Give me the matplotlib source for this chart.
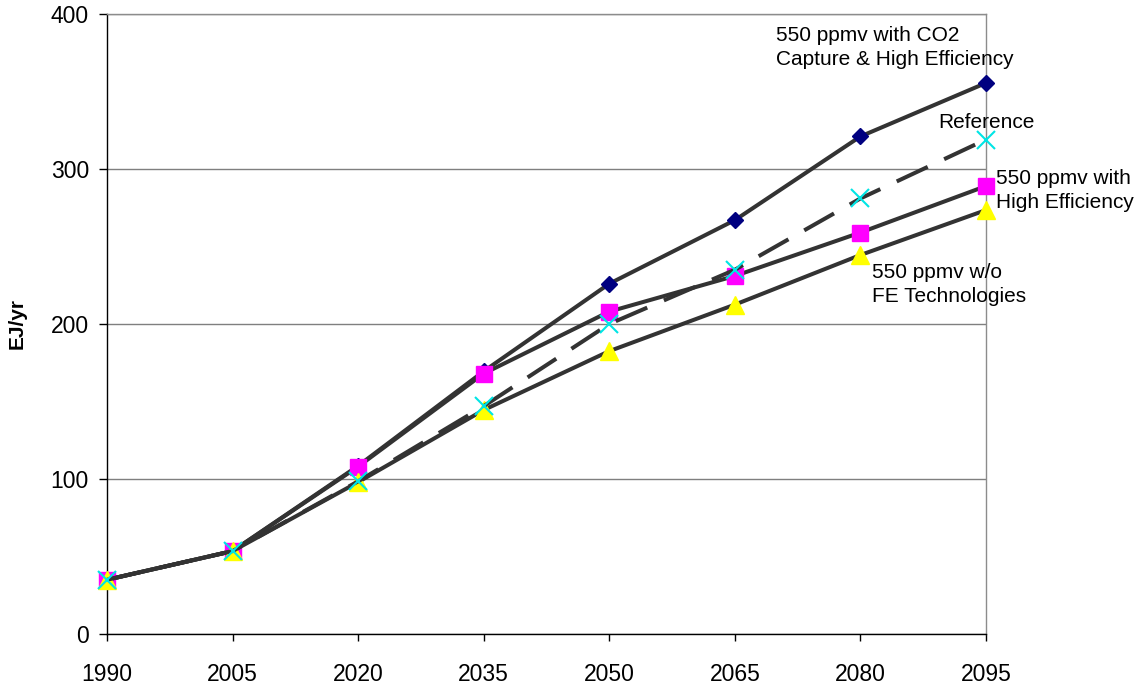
import matplotlib
matplotlib.use("Agg")
import matplotlib.pyplot as plt

plt.rcParams['font.family'] = ['Liberation Sans', 'DejaVu Sans']

years = [1990, 2005, 2020, 2035, 2050, 2065, 2080, 2095]
co2_capture_he = [35, 53.5, 108.5, 169.5, 226, 267, 321, 355.5]
high_eff = [35, 53.5, 108, 168, 208, 231, 259, 289]
reference = [35, 53.5, 98.5, 147, 200, 235, 281, 319]
wo_fe = [35, 53.5, 98, 144.5, 182.5, 212.5, 244.5, 273.5]

yticks = [0, 100, 200, 300, 400]

W, H = 1143, 690
fig = plt.figure(figsize=(W / 100, H / 100), dpi=100)
ax = fig.add_axes([107 / W, 1 - 634 / H, (986 - 107) / W, (634 - 14) / H])

line_c = '#333333'
lw = 2.9

ax.plot(years, co2_capture_he, color=line_c, lw=lw, marker='D', ms=8.6,
        mfc='#000080', mec='#000080', clip_on=False, zorder=3)
ax.plot(years, high_eff, color=line_c, lw=lw, marker='s', ms=12,
        mfc='#ff00ff', mec='#ff00ff', clip_on=False, zorder=3)
ax.plot(years, wo_fe, color=line_c, lw=lw, marker='^', ms=12.5,
        mfc='#ffff00', mec='#ffff00', clip_on=False, zorder=3)
ax.plot(years, reference, color=line_c, lw=lw, dashes=(8.5, 4.5),
        marker='x', ms=13, mec='#00e5e5', mew=1.5, clip_on=False, zorder=3)

ax.set_xlim(1990, 2095)
ax.set_ylim(0, 400)
ax.set_xticks(years)
ax.set_xticklabels([str(y) for y in years])
ax.set_yticks(yticks)
ax.set_yticklabels([str(v) for v in yticks])

ax.yaxis.grid(True, color='#7f7f7f', lw=1.0)
ax.set_axisbelow(True)

for s in ['left', 'bottom']:
    ax.spines[s].set_color('black')
    ax.spines[s].set_linewidth(1.0)
for s in ['top', 'right']:
    ax.spines[s].set_color('#8c8c8c')
    ax.spines[s].set_linewidth(1.0)

ax.tick_params(axis='x', direction='out', length=5, width=1, pad=16, labelsize=16.5)
ax.tick_params(axis='y', direction='out', length=6, width=1, pad=7, labelsize=16.5)

ax.set_ylabel('EJ/yr', fontsize=15, fontweight='bold', labelpad=17)

def ftext(x, y, s):
    fig.text(x / W, 1 - y / H, s, fontsize=15, ha='left', va='center', linespacing=1.35)

ftext(776, 47.5, '550 ppmv with CO2\nCapture & High Efficiency')
ftext(938, 123, 'Reference')
ftext(996, 190.5, '550 ppmv with\nHigh Efficiency')
ftext(872, 284.5, '550 ppmv w/o\nFE Technologies')

fig.savefig('out.png', dpi=100)
